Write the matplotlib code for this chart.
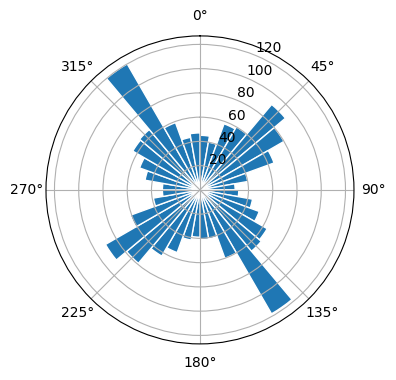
import numpy as np
import matplotlib
matplotlib.use("Agg")
import matplotlib.pyplot as plt

# bar centres in degrees (clockwise from north) and radial lengths
directions = [5, 15, 25, 35, 45, 55, 65, 75, 85,
              95, 105, 115, 125, 135, 145, 155, 165, 175,
              185, 195, 205, 215, 225, 235, 245, 255, 265,
              275, 285, 295, 305, 315, 325, 335, 345, 355]
counts = [45, 40, 58, 60, 92, 80, 65, 40, 29,
          32, 44, 52, 64, 66, 118, 60, 41, 41,
          39, 42, 55, 63, 79, 90, 61, 39, 31,
          31, 46, 53, 64, 65, 120, 59, 44, 47]
bin_width = 10

fig = plt.figure(figsize=(3.96, 3.8), dpi=100)
ax = fig.add_axes([0.116, 0.095, 0.778, 0.8105], projection='polar')
ax.set_theta_zero_location('N')
ax.set_theta_direction(-1)

ax.bar(np.deg2rad(directions), counts, width=np.deg2rad(bin_width),
       color='C0', edgecolor='white', linewidth=1)

ax.set_rticks([20, 40, 60, 80, 100, 120])
ax.set_rlim(0, 127)

fig.savefig('out.png', dpi=100)
